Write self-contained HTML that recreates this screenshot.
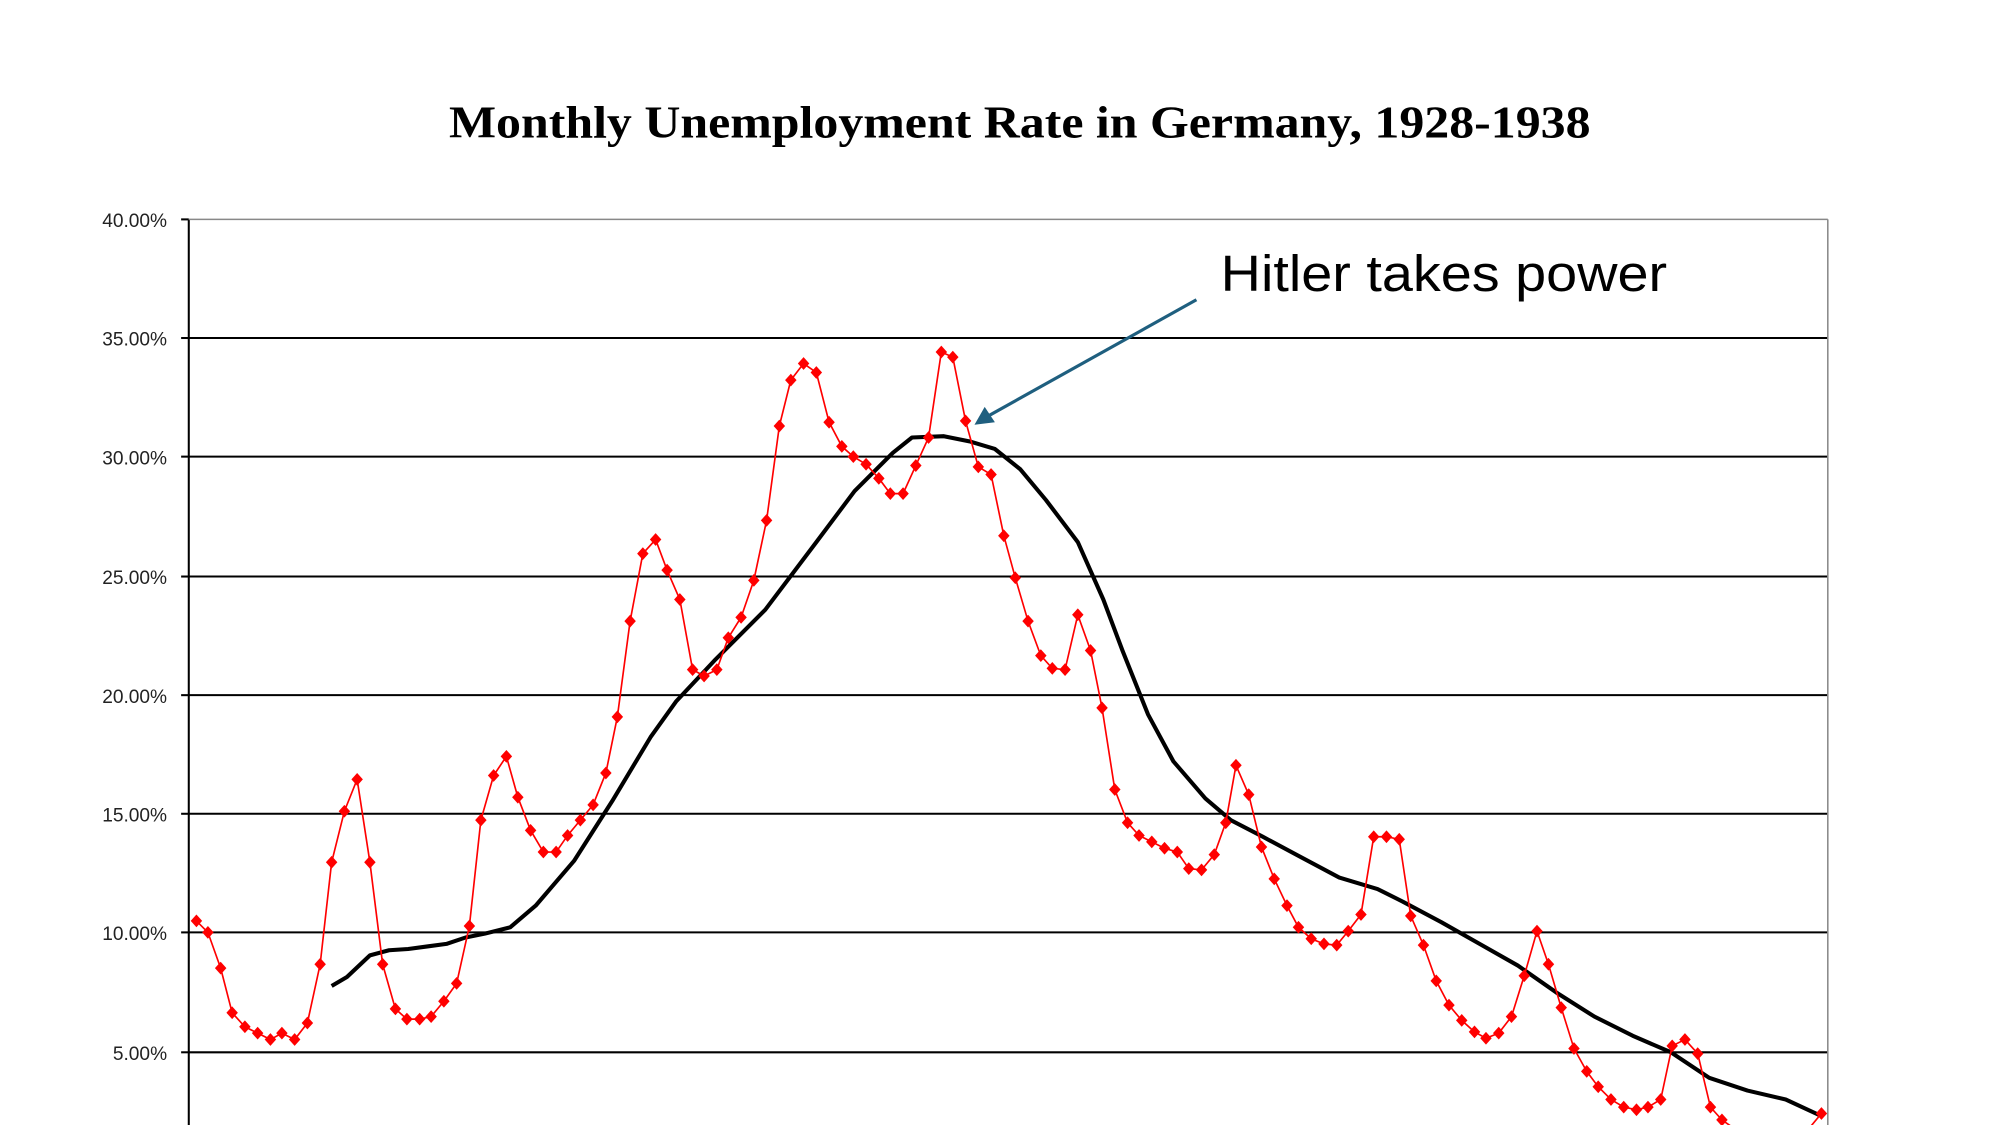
<!DOCTYPE html>
<html><head><meta charset="utf-8"><style>html,body{margin:0;padding:0;background:#fff;overflow:hidden}</style></head>
<body>
<svg width="2000" height="1125" viewBox="0 0 1568 882" xmlns="http://www.w3.org/2000/svg">
<defs><polygon id="d" points="0,-5 4.5,0 0,5 -4.5,0" fill="#f00"/></defs>
<rect width="1568" height="882" fill="#fff"/>
<text x="352" y="108" textLength="895" lengthAdjust="spacingAndGlyphs" font-family="Liberation Serif, serif" font-weight="bold" font-size="36" fill="#000">Monthly Unemployment Rate in Germany, 1928-1938</text>
<g stroke="#000" stroke-width="1.6">
<line x1="148" y1="265" x2="1433" y2="265"/>
<line x1="148" y1="358" x2="1433" y2="358"/>
<line x1="148" y1="452" x2="1433" y2="452"/>
<line x1="148" y1="545" x2="1433" y2="545"/>
<line x1="148" y1="638" x2="1433" y2="638"/>
<line x1="148" y1="731" x2="1433" y2="731"/>
<line x1="148" y1="825" x2="1433" y2="825"/>
<line x1="148" y1="172" x2="148" y2="882"/>
<line x1="142" y1="172" x2="148" y2="172"/><line x1="142" y1="265" x2="148" y2="265"/><line x1="142" y1="358" x2="148" y2="358"/><line x1="142" y1="452" x2="148" y2="452"/><line x1="142" y1="545" x2="148" y2="545"/><line x1="142" y1="638" x2="148" y2="638"/><line x1="142" y1="731" x2="148" y2="731"/><line x1="142" y1="825" x2="148" y2="825"/>
</g>
<line x1="148" y1="172" x2="1433" y2="172" stroke="#888" stroke-width="1.2"/>
<line x1="1433" y1="172" x2="1433" y2="882" stroke="#888" stroke-width="1.2"/>
<g font-family="Liberation Sans, sans-serif" font-size="15" fill="#222" text-anchor="end">
<text x="131" y="178">40.00%</text><text x="131" y="271">35.00%</text><text x="131" y="364">30.00%</text><text x="131" y="458">25.00%</text><text x="131" y="551">20.00%</text><text x="131" y="644">15.00%</text><text x="131" y="737">10.00%</text><text x="131" y="831">5.00%</text>
</g>
<polyline fill="none" stroke="#000" stroke-width="3.2" stroke-linejoin="round" points="260,773 272,766 290,749 305,745 320,744 335,742 350,740 365,735 380,732 400,727 420,710 450,675 480,628 510,578 530,550 560,518 600,478 640,425 670,385 700,355 715,343 740,342 760,346 780,352 800,368 820,392 845,425 865,470 880,510 900,560 920,597 945,626 965,643 990,656 1020,672 1050,688 1080,697 1100,707 1130,723 1160,740 1190,757 1220,778 1250,797 1280,812 1310,825 1340,845 1370,855 1400,862 1428,875"/>
<polyline fill="none" stroke="#f00" stroke-width="1.3" points="154,722 163,731 173,759 182,794 192,805 202,810 212,815 221,810 231,815 241,802 251,756 260,676 270,636 280,611 290,676 300,756 310,791 319,799 329,799 338,797 348,785 358,771 368,726 377,643 387,608 397,593 406,625 416,651 426,668 436,668 445,655 455,643 465,631 475,606 484,562 494,487 504,434 514,423 523,447 533,470 543,525 552,530 562,525 571,500 581,484 591,455 601,408 611,334 620,298 630,285 640,292 650,331 660,350 669,358 679,364 689,375 698,387 708,387 718,365 728,343 738,276 747,280 757,330 767,366 777,372 787,420 796,453 806,487 816,514 825,524 835,525 845,482 855,510 864,555 874,619 884,645 893,655 903,660 913,665 923,668 932,681 942,682 952,670 961,645 969,600 979,623 989,664 999,689 1009,710 1018,727 1028,736 1038,740 1048,741 1057,730 1067,717 1077,656 1087,656 1097,658 1106,718 1116,741 1126,769 1136,788 1146,800 1156,809 1165,814 1175,810 1185,797 1195,765 1205,730 1214,756 1224,790 1234,822 1244,840 1253,852 1263,862 1273,868 1283,870 1292,868 1302,862 1311,820 1321,815 1331,826 1341,868 1350,878 1360,885"/>
<polyline fill="none" stroke="#f00" stroke-width="1.3" points="1418,885 1428,873"/>
<g>
<use href="#d" x="154" y="722"/><use href="#d" x="163" y="731"/><use href="#d" x="173" y="759"/><use href="#d" x="182" y="794"/><use href="#d" x="192" y="805"/><use href="#d" x="202" y="810"/><use href="#d" x="212" y="815"/><use href="#d" x="221" y="810"/><use href="#d" x="231" y="815"/><use href="#d" x="241" y="802"/><use href="#d" x="251" y="756"/><use href="#d" x="260" y="676"/><use href="#d" x="270" y="636"/><use href="#d" x="280" y="611"/><use href="#d" x="290" y="676"/><use href="#d" x="300" y="756"/><use href="#d" x="310" y="791"/><use href="#d" x="319" y="799"/><use href="#d" x="329" y="799"/><use href="#d" x="338" y="797"/><use href="#d" x="348" y="785"/><use href="#d" x="358" y="771"/><use href="#d" x="368" y="726"/><use href="#d" x="377" y="643"/><use href="#d" x="387" y="608"/><use href="#d" x="397" y="593"/><use href="#d" x="406" y="625"/><use href="#d" x="416" y="651"/><use href="#d" x="426" y="668"/><use href="#d" x="436" y="668"/><use href="#d" x="445" y="655"/><use href="#d" x="455" y="643"/><use href="#d" x="465" y="631"/><use href="#d" x="475" y="606"/><use href="#d" x="484" y="562"/><use href="#d" x="494" y="487"/><use href="#d" x="504" y="434"/><use href="#d" x="514" y="423"/><use href="#d" x="523" y="447"/><use href="#d" x="533" y="470"/><use href="#d" x="543" y="525"/><use href="#d" x="552" y="530"/><use href="#d" x="562" y="525"/><use href="#d" x="571" y="500"/><use href="#d" x="581" y="484"/><use href="#d" x="591" y="455"/><use href="#d" x="601" y="408"/><use href="#d" x="611" y="334"/><use href="#d" x="620" y="298"/><use href="#d" x="630" y="285"/><use href="#d" x="640" y="292"/><use href="#d" x="650" y="331"/><use href="#d" x="660" y="350"/><use href="#d" x="669" y="358"/><use href="#d" x="679" y="364"/><use href="#d" x="689" y="375"/><use href="#d" x="698" y="387"/><use href="#d" x="708" y="387"/><use href="#d" x="718" y="365"/><use href="#d" x="728" y="343"/><use href="#d" x="738" y="276"/><use href="#d" x="747" y="280"/><use href="#d" x="757" y="330"/><use href="#d" x="767" y="366"/><use href="#d" x="777" y="372"/><use href="#d" x="787" y="420"/><use href="#d" x="796" y="453"/><use href="#d" x="806" y="487"/><use href="#d" x="816" y="514"/><use href="#d" x="825" y="524"/><use href="#d" x="835" y="525"/><use href="#d" x="845" y="482"/><use href="#d" x="855" y="510"/><use href="#d" x="864" y="555"/><use href="#d" x="874" y="619"/><use href="#d" x="884" y="645"/><use href="#d" x="893" y="655"/><use href="#d" x="903" y="660"/><use href="#d" x="913" y="665"/><use href="#d" x="923" y="668"/><use href="#d" x="932" y="681"/><use href="#d" x="942" y="682"/><use href="#d" x="952" y="670"/><use href="#d" x="961" y="645"/><use href="#d" x="969" y="600"/><use href="#d" x="979" y="623"/><use href="#d" x="989" y="664"/><use href="#d" x="999" y="689"/><use href="#d" x="1009" y="710"/><use href="#d" x="1018" y="727"/><use href="#d" x="1028" y="736"/><use href="#d" x="1038" y="740"/><use href="#d" x="1048" y="741"/><use href="#d" x="1057" y="730"/><use href="#d" x="1067" y="717"/><use href="#d" x="1077" y="656"/><use href="#d" x="1087" y="656"/><use href="#d" x="1097" y="658"/><use href="#d" x="1106" y="718"/><use href="#d" x="1116" y="741"/><use href="#d" x="1126" y="769"/><use href="#d" x="1136" y="788"/><use href="#d" x="1146" y="800"/><use href="#d" x="1156" y="809"/><use href="#d" x="1165" y="814"/><use href="#d" x="1175" y="810"/><use href="#d" x="1185" y="797"/><use href="#d" x="1195" y="765"/><use href="#d" x="1205" y="730"/><use href="#d" x="1214" y="756"/><use href="#d" x="1224" y="790"/><use href="#d" x="1234" y="822"/><use href="#d" x="1244" y="840"/><use href="#d" x="1253" y="852"/><use href="#d" x="1263" y="862"/><use href="#d" x="1273" y="868"/><use href="#d" x="1283" y="870"/><use href="#d" x="1292" y="868"/><use href="#d" x="1302" y="862"/><use href="#d" x="1311" y="820"/><use href="#d" x="1321" y="815"/><use href="#d" x="1331" y="826"/><use href="#d" x="1341" y="868"/><use href="#d" x="1350" y="878"/><use href="#d" x="1428" y="873"/>
</g>
<line x1="938" y1="235" x2="775" y2="326" stroke="#1f5f7f" stroke-width="2.5"/>
<polygon points="764,333 772,319 780,331" fill="#1f5f7f"/>
<text x="957" y="228" textLength="350" lengthAdjust="spacingAndGlyphs" font-family="Liberation Sans, sans-serif" font-size="40" fill="#000">Hitler takes power</text>
</svg>
</body></html>
